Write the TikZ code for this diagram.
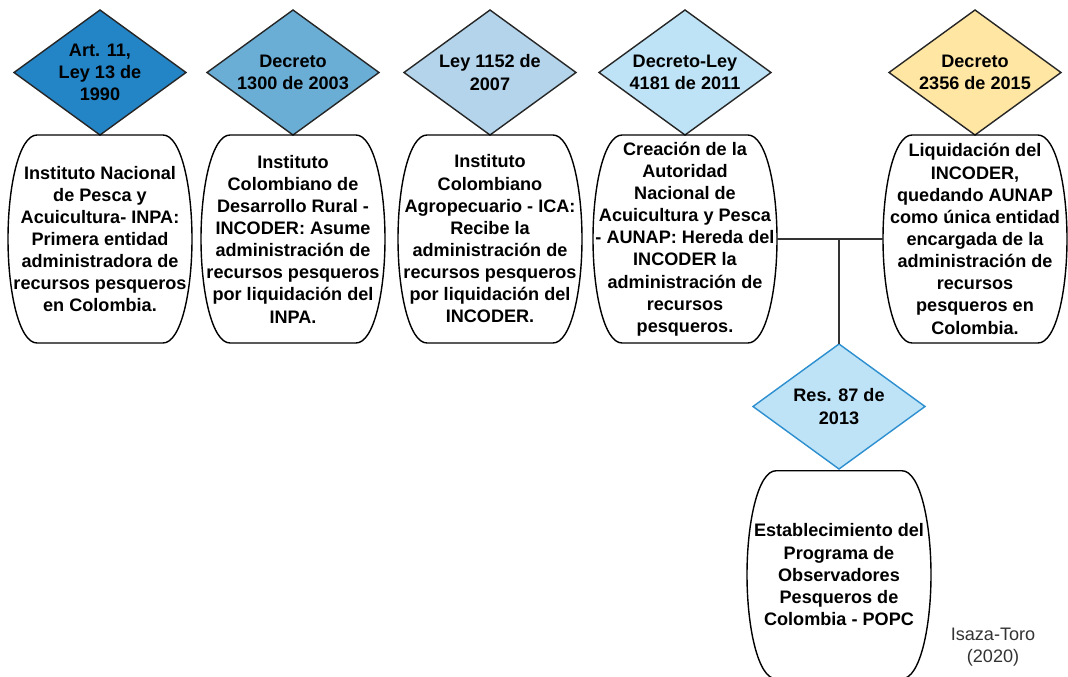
\documentclass[tikz,border=0pt]{standalone}
\usepackage{fontspec}
\setmainfont{Liberation Sans}
\usepackage{tikz}
\usetikzlibrary{shapes.geometric,positioning,calc}
\usepackage{xcolor}
\definecolor{norma1}{HTML}{2384C6}
\definecolor{norma2}{HTML}{6AAED6}
\definecolor{norma3}{HTML}{B3D4EA}
\definecolor{norma4}{HTML}{BEE3F6}
\definecolor{norma5}{HTML}{FFE6A3}
\definecolor{lineares}{HTML}{2D8FCF}
\definecolor{union}{HTML}{333333}

\begin{document}
\begin{tikzpicture}[
  norma/.style={diamond, draw=black!85, line width=0.8pt, aspect=1.376, minimum width=3.44cm, minimum height=2.5cm, inner sep=-6pt, outer sep=0pt, align=center, font=\bfseries\fontsize{10.3pt}{12.6pt}\selectfont},
  caja/.style={rectangle, minimum width=3.68cm, minimum height=4.16cm, inner sep=0pt, outer sep=0pt, align=center, font=\bfseries\fontsize{10.3pt}{12.6pt}\selectfont},
  borde/.style={draw=black, line width=0.8pt}]
\useasboundingbox (0,0) rectangle (21.36,-13.54);

% normas
\node (d1) [norma, fill=norma1] at (2.00,-1.45) {Art. 11,\\Ley 13 de\\1990};
\node (d2) [norma, fill=norma2] at (5.86,-1.45) {Decreto\\1300 de 2003};
\node (d3) [norma, fill=norma3] at (9.80,-1.45) {Ley 1152 de\\2007};
\node (d4) [norma, fill=norma4] at (13.70,-1.45) {Decreto-Ley\\4181 de 2011};
\node (d5) [norma, fill=norma5] at (19.50,-1.45) {Decreto\\2356 de 2015};
\node (d6) [norma, fill=norma4, draw=lineares] at (16.78,-8.13) {Res. 87 de\\2013};

% cajas
\node (caja1) [caja, below=0pt of d1] {Instituto Nacional\\de Pesca y\\Acuicultura- INPA:\\Primera entidad\\administradora de\\recursos pesqueros\\en Colombia.};
\node (caja2) [caja, below=0pt of d2] {Instituto\\Colombiano de\\Desarrollo Rural -\\INCODER: Asume\\administración de\\recursos pesqueros\\por liquidación del\\INPA.};
\node (caja3) [caja, below=0pt of d3] {Instituto\\Colombiano\\Agropecuario - ICA:\\Recibe la\\administración de\\recursos pesqueros\\por liquidación del\\INCODER.};
\node (caja4) [caja, below=0pt of d4] {Creación de la\\Autoridad\\Nacional de\\Acuicultura y Pesca\\- AUNAP: Hereda del\\INCODER la\\administración de\\recursos\\pesqueros.};
\node (caja5) [caja, below=0pt of d5] {Liquidación del\\INCODER,\\quedando AUNAP\\como única entidad\\encargada de la\\administración de\\recursos\\pesqueros en\\Colombia.};
\node (caja6) [caja, below=1pt of d6] {Establecimiento del\\Programa de\\Observadores\\Pesqueros de\\Colombia - POPC};

\foreach \n in {caja1,caja2,caja3,caja4,caja5,caja6}
  \draw[borde, shift={(\n.center)}] (-1.26,2.08) -- (1.26,2.08)
    .. controls (1.62,2.08) and (1.84,1.05) .. (1.84,0)
    .. controls (1.84,-1.05) and (1.62,-2.08) .. (1.26,-2.08) -- (-1.26,-2.08)
    .. controls (-1.62,-2.08) and (-1.84,-1.05) .. (-1.84,0)
    .. controls (-1.84,1.05) and (-1.62,2.08) .. (-1.26,2.08) -- cycle;

% conectores
\coordinate (cruce) at (d6.north |- caja4.east);
\draw [union, line width=0.85pt] (caja4.east) -- (caja5.west);
\draw [union, line width=0.85pt] (cruce) -- (d6.north);

\node (fuente) [align=center, text=union, font=\fontsize{10.3pt}{12.2pt}\selectfont] at (19.86,-12.94) {Isaza-Toro\\(2020)};
\end{tikzpicture}
\end{document}
